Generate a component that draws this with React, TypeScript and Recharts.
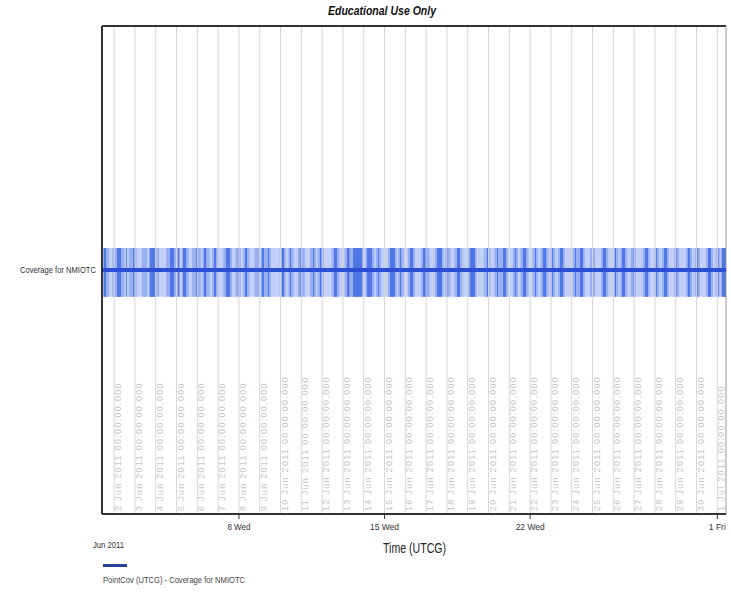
import React from "react";
import {
  ComposedChart,
  Line,
  ReferenceArea,
  ReferenceLine,
  XAxis,
  YAxis,
} from "recharts";

// hours counted from the scenario start, 1 Jun 2011 10:00 UTCG
const SPAN_HOURS = 720;

const baseCoverage: [number, number][] = [[0, 720]];

const midPasses: [number, number][] = [
  [0, 8], [12, 26], [31, 40], [46, 52], [54, 66], [74, 90], [92, 100],
  [104, 114], [116, 124], [127, 134], [140, 150], [154, 160], [163, 170],
  [176, 182], [183, 195], [205, 212], [215, 221], [226, 234], [240, 247],
  [249, 256], [265, 274], [280, 302], [304, 314], [316, 322], [330, 340],
  [342, 348], [353, 361], [368, 378], [384, 394], [396, 402], [407, 416],
  [422, 432], [441, 448], [453, 468], [474, 480], [483, 492], [497, 503],
  [506, 515], [517, 523], [526, 534], [543, 557], [563, 569], [576, 584],
  [590, 596], [598, 606], [610, 616], [624, 632], [637, 643], [646, 654],
  [660, 666], [674, 681], [684, 690], [697, 705], [708, 713], [714, 720],
];

const peakPasses: [number, number][] = [
  [2.3, 4.6], [17.3, 21.9], [27.7, 28.8], [35.8, 38.1], [55.4, 61.2],
  [78.5, 83.1], [87.7, 88.8], [93.5, 96.9], [108.5, 110.8], [117.7, 120],
  [129.2, 131.5], [143, 147.7], [156.9, 158], [165, 167.3], [184.6, 186.9],
  [191.5, 192.7], [207.7, 210], [216.9, 218.1], [228.5, 230.8],
  [243.5, 244.6], [251.5, 253.8], [267.7, 271.1], [282.7, 285.5],
  [289.6, 300], [305.8, 311.5], [318.5, 319.6], [332.3, 338.1],
  [343.8, 345], [355.4, 358.8], [370.4, 375], [386.5, 392.3], [398, 399.2],
  [409.6, 413.1], [424.6, 430.4], [444.2, 445.4], [455.8, 456.9],
  [462.7, 466.1], [476.5, 477.7], [485.8, 489.2], [499.6, 500.8],
  [508.8, 512.3], [519.2, 520.4], [528.5, 531.9], [545.8, 546.9],
  [551.5, 555], [565.4, 566.5], [578, 581.5], [591.9, 593.1], [600, 603.5],
  [612.7, 613.8], [626.5, 630], [639.2, 640.4], [648.5, 651.9],
  [662.3, 663.5], [676.1, 678.5], [686.5, 687.7], [699.2, 702.7],
  [710.2, 711.3], [715.4, 720],
];

// day boundaries (midnight) shown as grid lines, 2 Jun .. 1 Jul
const gridDays = [
  2, 3, 4, 5, 6, 7, 8, 9, 10, 11, 12, 13, 14, 15, 16, 17, 18, 19, 20, 21, 22,
  23, 24, 25, 26, 27, 28, 29, 30, 31,
];

const tickHours = [158, 326, 494, 710];
const tickLabels = ["8 Wed", "15 Wed", "22 Wed", "1 Fri"];
const tickWidths = [23, 29, 29, 17];

const centerData = [
  { h: 0, v: 5 },
  { h: SPAN_HOURS, v: 5 },
];

const SANS = "'Liberation Sans', Arial, sans-serif";

const dayHour = (d: number) => (d - 1) * 24 - 10;
const dayText = (d: number) =>
  d <= 30 ? `${d} Jun 2011 00:00:00.000` : `${d - 30} Jul 2011 00:00:00.000`;

function DayLabel(props: any) {
  const vb = props.viewBox || {};
  const x = vb.x + 7;
  const y = vb.y + vb.height - 3;
  return (
    <text
      x={x}
      y={y}
      transform={`rotate(-90 ${x} ${y})`}
      fontSize={9}
      fill="#c4c4c4"
      fontFamily={SANS}
      letterSpacing={1.3}
    >
      {props.text}
    </text>
  );
}

function TimeTick(props: any) {
  const { x, y, payload } = props;
  const i = tickHours.indexOf(payload.value);
  return (
    <text
      x={x}
      y={y + 9}
      textAnchor="middle"
      fontSize={9}
      fill="#333"
      fontFamily={SANS}
      textLength={tickWidths[i]}
      lengthAdjust="spacingAndGlyphs"
    >
      {tickLabels[i]}
    </text>
  );
}

function CoverageTick(props: any) {
  const { x, y } = props;
  return (
    <text
      x={x - 76}
      y={y + 3}
      fontSize={9}
      fill="#333"
      fontFamily={SANS}
      textLength={76}
      lengthAdjust="spacingAndGlyphs"
    >
      Coverage for NMIOTC
    </text>
  );
}

export default function App() {
  return (
    <div
      style={{
        position: "absolute",
        left: 0,
        top: 0,
        width: 731,
        height: 592,
        background: "#fff",
      }}
    >
      <ComposedChart
        width={731}
        height={592}
        data={centerData}
        margin={{ top: 26, right: 5, bottom: 50, left: 0 }}
      >
        <XAxis
          type="number"
          dataKey="h"
          domain={[0, SPAN_HOURS]}
          ticks={tickHours}
          height={28}
          tickSize={5}
          tick={<TimeTick />}
          axisLine={{ stroke: "#333", strokeWidth: 2 }}
          tickLine={{ stroke: "#333" }}
          allowDataOverflow
        />
        <YAxis
          type="number"
          domain={[0, 10]}
          ticks={[5]}
          width={102}
          tickLine={false}
          tickSize={4}
          tick={<CoverageTick />}
          axisLine={{ stroke: "#333", strokeWidth: 2 }}
        />
        {gridDays.map((d) => (
          <ReferenceLine
            key={d}
            x={dayHour(d)}
            stroke="#d6d6d6"
            strokeWidth={1}
            label={<DayLabel text={dayText(d)} />}
          />
        ))}
        <ReferenceLine y={10} stroke="#333" strokeWidth={2} />
        <ReferenceLine x={SPAN_HOURS} stroke="#999" strokeWidth={1} />
        {baseCoverage.map(([a, b], i) => (
          <ReferenceArea
            key={`b${i}`}
            x1={a}
            x2={b}
            y1={4.45}
            y2={5.45}
            fill="#85a1f0"
            fillOpacity={0.5}
            stroke="none"
          />
        ))}
        {midPasses.map(([a, b], i) => (
          <ReferenceArea
            key={`m${i}`}
            x1={a}
            x2={b}
            y1={4.45}
            y2={5.45}
            fill="#5a7fe8"
            fillOpacity={0.4}
            stroke="none"
          />
        ))}
        {peakPasses.map(([a, b], i) => (
          <ReferenceArea
            key={`p${i}`}
            x1={a}
            x2={b}
            y1={4.45}
            y2={5.45}
            fill="#2b57e0"
            fillOpacity={0.65}
            stroke="none"
          />
        ))}
        <Line
          dataKey="v"
          stroke="#2a4ed4"
          strokeWidth={4}
          dot={false}
          isAnimationActive={false}
        />
      </ComposedChart>

      <svg
        width={731}
        height={592}
        style={{ position: "absolute", left: 0, top: 0, pointerEvents: "none" }}
      >
        <text
          x={382}
          y={15}
          textAnchor="middle"
          fontFamily={SANS}
          fontWeight="bold"
          fontStyle="italic"
          fontSize={12}
          fill="#111"
          textLength={108}
          lengthAdjust="spacingAndGlyphs"
        >
          Educational Use Only
        </text>
        <text
          x={93}
          y={548}
          fontFamily={SANS}
          fontSize={9}
          fill="#333"
          textLength={31}
          lengthAdjust="spacingAndGlyphs"
        >
          Jun 2011
        </text>
        <text
          x={383}
          y={553}
          fontFamily={SANS}
          fontSize={14}
          fill="#222"
          textLength={63}
          lengthAdjust="spacingAndGlyphs"
        >
          Time (UTCG)
        </text>
        <rect x={103} y={564} width={24} height={3} fill="#2b3f9c" />
        <text
          x={103}
          y={583}
          fontFamily={SANS}
          fontSize={9}
          fill="#444"
          textLength={142}
          lengthAdjust="spacingAndGlyphs"
        >
          PointCov (UTCG) - Coverage for NMIOTC
        </text>
      </svg>
    </div>
  );
}
